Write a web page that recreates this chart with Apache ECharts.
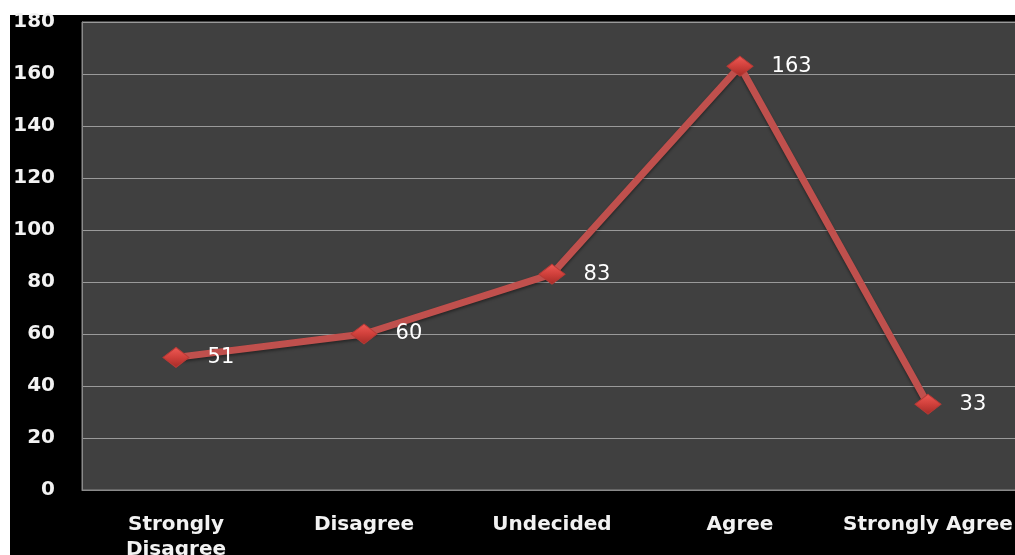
<!DOCTYPE html>
<html><head><meta charset="utf-8">
<script src="https://cdn.jsdelivr.net/npm/echarts@6/dist/echarts.min.js"></script>
<style>html,body{margin:0;padding:0;background:#fff}#c{width:1015px;height:555px}</style>
</head><body><div id="c"></div>
<script>
var categories = ['Strongly\nDisagree', 'Disagree', 'Undecided', 'Agree', 'Strongly Agree'];
var values = [51, 60, 83, 163, 33];
var yTicks = { min: 0, max: 180, interval: 20 };

var chart = echarts.init(document.getElementById('c'));
chart.setOption({
  backgroundColor: '#fff',
  animation: false,
  graphic: [{ type: 'rect', z: -10, shape: { x: 10, y: 15, width: 1005, height: 540 }, style: { fill: '#000' } }],
  grid: { left: 82, right: -7, top: 22, bottom: 65, outerBoundsMode: 'none', containLabel: false, show: true, backgroundColor: '#404040', borderColor: '#8a8a8a', borderWidth: 1 },
  xAxis: {
    type: 'category', data: categories, boundaryGap: true,
    axisLine: { show: true, lineStyle: { color: '#8a8a8a', width: 1 } },
    axisTick: { show: false },
    axisLabel: { color: '#f2f2f2', fontSize: 20, fontFamily: 'DejaVu Sans', fontWeight: 'bold', margin: 22, lineHeight: 25, interval: 0 }
  },
  yAxis: {
    type: 'value', min: yTicks.min, max: yTicks.max, interval: yTicks.interval,
    axisLine: { show: true, lineStyle: { color: '#8a8a8a', width: 1 } },
    axisTick: { show: false },
    splitLine: { lineStyle: { color: '#9a9a9a', width: 1 } },
    axisLabel: { color: '#f2f2f2', fontSize: 20, fontFamily: 'DejaVu Sans', fontWeight: 'bold', margin: 27 }
  },
  series: [{
    type: 'line', data: values,
    lineStyle: { color: '#c0504d', width: 7, shadowColor: 'rgba(0,0,0,0.4)', shadowBlur: 3, shadowOffsetY: 2 },
    symbol: 'diamond', symbolSize: [26, 20],
    itemStyle: {
      color: new echarts.graphic.LinearGradient(0, 0, 0, 1, [
        { offset: 0, color: '#f05a55' }, { offset: 0.5, color: '#d0403b' }, { offset: 1, color: '#a42b27' }
      ]),
      borderColor: '#b83a36', borderWidth: 1
    },
    label: { show: true, position: 'right', distance: 18, color: '#fff', fontSize: 21, fontFamily: 'DejaVu Sans' }
  }]
});
</script></body></html>
